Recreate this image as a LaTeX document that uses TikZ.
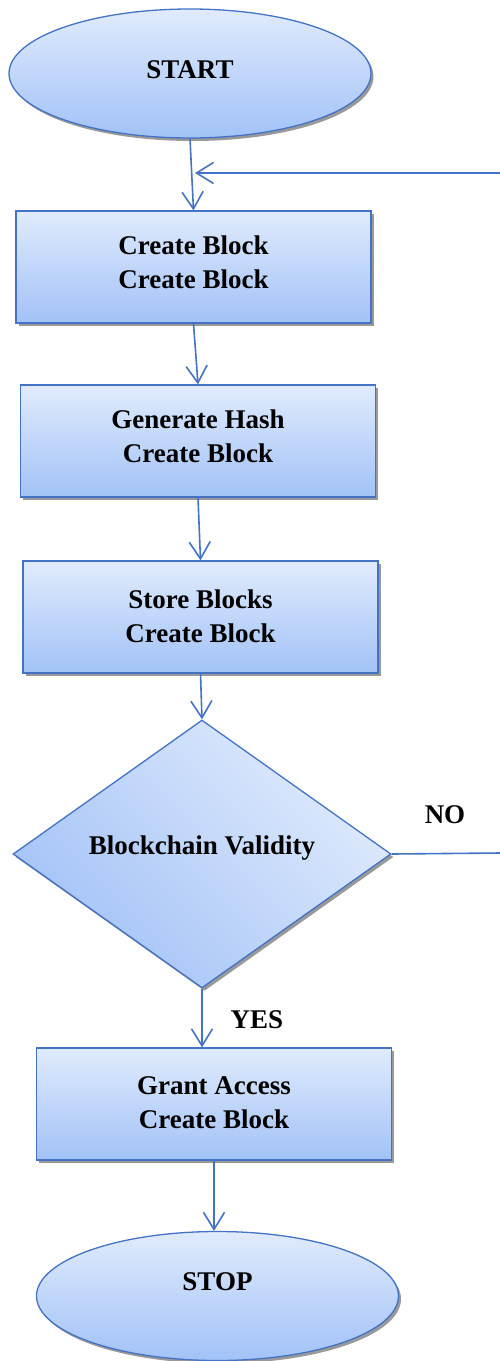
\documentclass[tikz,border=0pt]{standalone}
\usepackage{fontspec}
\setmainfont{Liberation Serif}
\usetikzlibrary{shapes.geometric,shadows,arrows.meta}
\definecolor{flowline}{HTML}{4472C4}
\definecolor{flowtop}{HTML}{E0EBFC}
\definecolor{flowbot}{HTML}{A2C2F7}
% extra depth under the last line lifts the text inside its shape
\newcommand{\liftby}[1]{\rule[-#1]{0pt}{0pt}}
\tikzset{
    flowshade/.style={draw=flowline, line width=1.3pt, top color=flowtop, bottom color=flowbot,
        drop shadow={shadow xshift=2.5pt, shadow yshift=-3pt, fill=gray!80, opacity=1},
        font=\fontsize{27}{34}\selectfont\bfseries},
    termnode/.style={flowshade, ellipse, minimum width=362pt, minimum height=129pt, inner sep=0pt},
    procnode/.style={flowshade, rectangle, minimum width=355pt, minimum height=112pt, align=center, inner sep=0pt},
    decnode/.style={flowshade, diamond, aspect=1.41, minimum width=378pt, minimum height=268pt, inner sep=0pt,
        shading angle=-45},
    flowarrow/.style={draw=flowline, line width=1.6pt, -{Straight Barb[length=17pt,width=21pt,line width=1.6pt]}},
    flowtext/.style={font=\fontsize{27}{34}\selectfont\bfseries}
}
\begin{document}
\begin{tikzpicture}[x=1pt, y=-1pt]
    \useasboundingbox (0, 0) rectangle (500, 1361);
    \node[termnode] (start) at (190, 73.5) {START\liftby{7pt}};
    \node[procnode] (create) at (193.5, 267) {Create Block\\Create Block\liftby{10pt}};
    \node[procnode] (hash) at (198, 441) {Generate Hash\\Create Block\liftby{9pt}};
    \node[procnode] (store) at (200.5, 617) {Store Blocks\\Create Block\liftby{2pt}};
    \node[decnode] (valid) at (202, 854) {Blockchain Validity\liftby{18pt}};
    \node[procnode] (grant) at (214, 1104) {Grant Access\\Create Block\liftby{3pt}};
    \node[termnode] (stop) at (217.5, 1296) {STOP\liftby{28pt}};
    \node[flowtext] (no) at (445, 815) {NO};
    \node[flowtext] (yes) at (257, 1020) {YES};
    \coordinate (loopR) at (500, 173);
    \coordinate (loopL) at (195, 173);
    \coordinate (noR) at (500, 853);
    % main flow
    \draw[flowarrow] (start.south) -- (create.north);
    \draw[flowarrow] (create.south) -- (hash.north);
    \draw[flowarrow] (hash.south) -- (store.north);
    \draw[flowarrow] (store.south) -- (valid.north);
    \draw[flowarrow] (valid.south) -- (grant.north -| valid.south);
    \draw[flowarrow] (grant.south) -- (stop.north -| grant.south);
    % NO branch back to the top
    \draw[draw=flowline, line width=1.6pt] (valid.east) -- (noR);
    \draw[flowarrow] (loopR) -- (loopL);
\end{tikzpicture}
\end{document}
